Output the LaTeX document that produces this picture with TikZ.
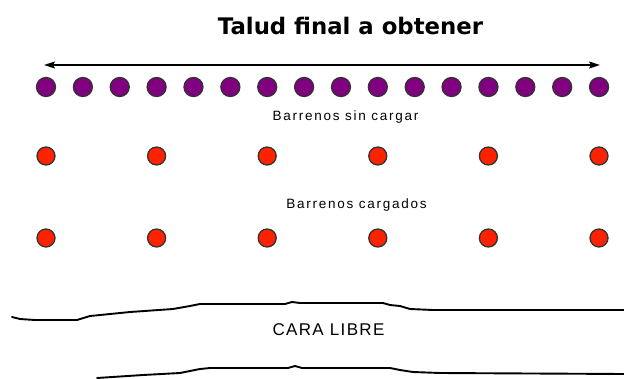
\documentclass[tikz,border=0pt]{standalone}
\usepackage{fontspec}
\setmainfont{Liberation Sans}
\newfontfamily\titlefont{DejaVu Sans}
\newfontfamily\holefont[LetterSpace=13]{Liberation Sans}
\newfontfamily\facefont[LetterSpace=8]{Liberation Sans}
\usepackage{tikz}
\usetikzlibrary{arrows.meta}

\definecolor{holepurple}{HTML}{800080}
\definecolor{holered}{HTML}{FF2200}

\begin{document}
\begin{tikzpicture}[
    x=1pt, y=-1pt,
    hole/.style={circle, draw=black!80, line width=1.3pt, inner sep=0pt},
    emptyhole/.style={hole, fill=holepurple, minimum size=19pt},
    loadedhole/.style={hole, fill=holered, minimum size=18pt},
    holetext/.style={anchor=base, font=\holefont\fontsize{13.5}{15}\selectfont},
    face/.style={line width=1.9pt, line join=round, line cap=round},
    span/.style={{Stealth[length=11pt,width=7pt,inset=2pt]}-{Stealth[length=11pt,width=7pt,inset=2pt]}, line width=1.3pt}
]
\useasboundingbox (0,0) rectangle (624,378);

\node[anchor=base, font=\titlefont\bfseries\fontsize{22.8}{26}\selectfont] (Title) at (350.5,34) {Talud final a obtener};

% talud final
\coordinate (SpanLeft) at (44,65);
\coordinate (SpanRight) at (600,65);
\draw[span] (SpanLeft) -- (SpanRight);

% barrenos
\foreach \i in {0,...,15}
    \node[emptyhole] (Empty\i) at ({46+\i*36.87},87) {};
\foreach \i in {0,...,5} {
    \node[loadedhole] (LoadedA\i) at ({46+\i*110.6},156) {};
    \node[loadedhole] (LoadedB\i) at ({46+\i*110.6},238) {};
}

\node[holetext] (EmptyText) at (345.5,120) {Barrenos sin cargar};
\node[holetext] (LoadedText) at (356.5,208) {Barrenos cargados};

% cara libre
\draw[face] (12,317) -- (20,319) -- (35,320) -- (77,320) -- (90,316) -- (130,312)
    -- (173,309) -- (190,306) -- (200,304) -- (285,304) -- (292,302) -- (300,303)
    -- (383,303) -- (390,305) -- (400,306) -- (410,309) -- (433,310) -- (624,310);
\draw[face] (97,378) -- (143,375) -- (180,373) -- (200,369) -- (210,368) -- (288,368)
    -- (295,366) -- (302,368) -- (390,368) -- (400,370) -- (413,372) -- (440,373) -- (624,374);

\node[anchor=base, font=\facefont\fontsize{17}{19}\selectfont] (Face) at (328.5,335) {CARA LIBRE};
\end{tikzpicture}
\end{document}
